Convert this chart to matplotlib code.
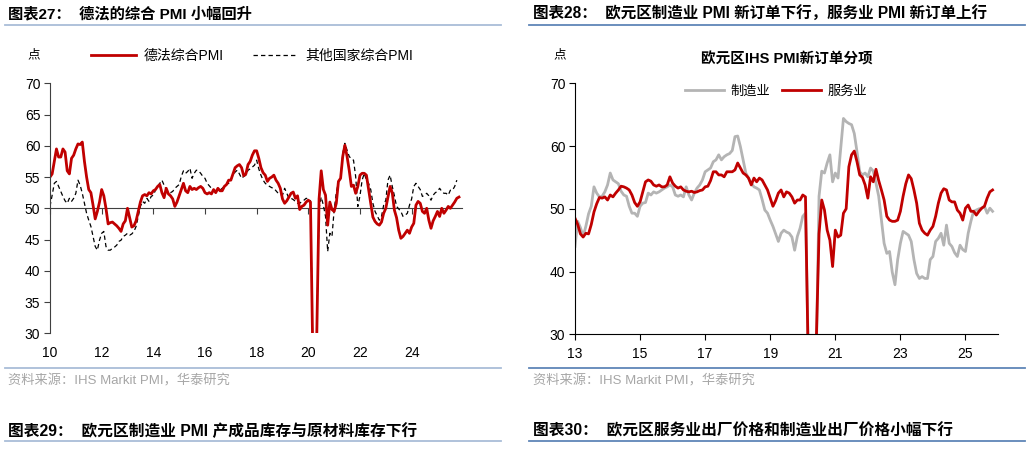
import numpy as np
import matplotlib
matplotlib.use('Agg')
import matplotlib.pyplot as plt
from matplotlib.lines import Line2D

plt.rcParams['font.family'] = ['Liberation Sans', 'Noto Sans CJK SC']

# 图表27: 德法 / 其他国家综合PMI, monthly from 2010-01
defr_pmi = [
    55.0, 55.5, 57.5, 59.5, 58.2, 58.2, 59.5, 59.0, 56.0, 55.5, 58.0, 58.5,  # 2010
    59.5, 60.3, 60.2, 60.6, 57.5, 55.0, 53.0, 52.5, 50.5, 48.3, 49.5, 51.0,  # 2011
    53.0, 52.0, 50.0, 47.5, 47.7, 47.8, 47.5, 47.2, 46.8, 46.3, 47.5, 48.0,  # 2012
    50.0, 48.5, 47.0, 47.2, 48.0, 49.5, 51.0, 52.0, 52.2, 52.0, 52.5, 52.3,  # 2013
    52.8, 53.0, 53.5, 53.8, 52.5, 51.7, 53.2, 52.3, 52.0, 51.5, 50.3, 51.0,  # 2014
    52.0, 53.0, 54.0, 52.8, 52.5, 53.5, 53.0, 53.2, 53.0, 53.3, 53.5, 53.2,  # 2015
    52.5, 52.3, 52.5, 52.3, 53.0, 52.5, 53.2, 52.8, 52.8, 53.5, 53.8, 54.5,  # 2016
    54.5, 55.5, 56.5, 56.8, 57.0, 56.5, 55.2, 55.5, 57.0, 57.5, 58.5, 59.2,  # 2017
    59.2, 58.0, 56.5, 55.7, 55.3, 54.3, 54.8, 55.0, 55.3, 54.5, 54.0, 53.2,  # 2018
    51.5, 50.8, 51.2, 51.8, 52.4, 52.6, 51.6, 52.0, 49.8, 50.3, 50.5, 51.0,  # 2019
    51.3, 51.0, 28.5, 13.0, 31.0, 51.5, 56.0, 53.0, 52.1, 47.3, 51.0, 49.8,  # 2020
    49.5, 50.8, 54.3, 54.8, 58.3, 60.1, 58.3, 56.1, 53.5, 53.7, 52.4, 53.5,  # 2021
    55.3, 55.6, 55.6, 55.3, 53.0, 50.8, 48.6, 47.9, 47.5, 47.3, 47.8, 49.2,  # 2022
    50.0, 51.8, 53.5, 52.5, 49.7, 48.5, 46.5, 45.2, 45.5, 46.0, 46.5, 46.0,  # 2023
    47.0, 47.6, 50.5, 51.1, 50.8, 49.5, 49.2, 50.0, 48.1, 46.8, 48.0, 48.7,  # 2024
    49.5, 48.7, 50.0, 49.2, 49.7, 50.3, 50.0, 50.5, 51.0, 51.6, 51.8,        # 2025
]
others_pmi = [
    50.3, 52.1, 54.0, 54.3, 53.5, 52.7, 51.9, 51.2, 50.8, 51.6, 51.1, 51.6,
    52.4, 54.5, 53.7, 52.4, 50.8, 49.2, 48.1, 47.1, 45.5, 43.9, 43.3, 44.9,
    46.0, 46.3, 43.9, 43.3, 43.3, 43.6, 43.8, 44.1, 44.7, 44.9, 45.5, 45.7,
    46.0, 45.7, 45.9, 46.3, 47.1, 48.7, 50.3, 51.1, 50.8, 51.6, 51.1, 51.9,
    52.1, 52.9, 53.5, 54.0, 54.5, 53.7, 53.0, 52.7, 52.5, 52.7, 53.2, 53.5,
    53.8, 55.1, 56.0, 55.6, 55.9, 56.4, 54.8, 55.6, 56.1, 56.0, 55.6, 55.1,
    54.8, 54.0, 53.6, 53.2, 52.9, 52.8, 52.7, 52.9, 53.2, 53.5, 53.8, 54.0,
    54.5, 55.3, 55.8, 56.1, 55.5, 54.8, 55.1, 55.3, 56.1, 56.3, 56.6, 56.9,
    57.7, 56.3, 55.3, 54.5, 54.0, 53.7, 53.5, 53.3, 53.2, 52.8, 52.4, 52.2,
    52.1, 53.2, 52.4, 51.6, 51.6, 51.4, 51.1, 50.8, 50.8, 51.1, 51.3, 51.6,
    51.5, 51.2, 29.0, 14.0, 32.0, 50.0, 51.8, 50.5, 48.7, 43.1, 46.0, 45.5,
    49.7, 52.5, 54.2, 54.8, 58.8, 60.4, 59.3, 58.3, 57.9, 57.7, 55.1, 50.3,
    52.0, 54.5, 55.6, 54.5, 54.0, 53.0, 50.8, 49.5, 48.8, 48.1, 48.7, 50.5,
    51.3, 54.5, 55.3, 53.5, 52.0, 50.3, 49.9, 49.5, 48.7, 48.9, 49.2, 50.5,
    51.5, 53.5, 54.0, 53.5, 53.0, 51.9, 52.1, 52.4, 52.0, 51.3, 52.1, 52.5,
    52.7, 53.2, 52.7, 52.4, 52.4, 52.1, 52.9, 52.9, 53.5, 54.5,
]

# 图表28: 欧元区PMI新订单, monthly from 2013-01
mfg_orders = [
    44.0, 48.0, 47.0, 45.6, 47.2, 49.2, 50.4, 53.5, 52.5, 51.9, 52.0, 52.7,  # 2013
    53.8, 55.7, 54.6, 54.3, 54.0, 52.8, 52.2, 52.0, 50.4, 49.3, 49.3, 48.8,  # 2014
    50.4, 50.9, 51.0, 52.5, 52.2, 52.7, 52.5, 52.7, 53.0, 53.3, 53.5, 53.8,  # 2015
    53.5, 52.2, 52.0, 52.2, 51.9, 53.5, 52.2, 51.4, 52.5, 53.3, 53.8, 54.6,  # 2016
    55.9, 56.2, 56.5, 57.5, 57.8, 58.6, 57.8, 58.3, 58.6, 58.8, 59.3, 61.5,  # 2017
    61.6, 59.9, 57.8, 55.7, 54.9, 54.1, 53.5, 53.3, 53.0, 51.5, 49.8, 49.3,  # 2018
    48.2, 47.2, 46.0, 44.8, 46.1, 46.6, 46.3, 46.1, 45.5, 43.4, 45.6, 46.9,  # 2019
    48.8, 49.3, 28.0, 10.0, 19.0, 27.0, 52.0, 56.0, 55.7, 57.3, 58.6, 54.3,  # 2020
    55.7, 54.9, 59.6, 64.4, 63.9, 63.6, 63.4, 62.0, 59.1, 55.9, 55.4, 55.7,  # 2021
    55.1, 56.5, 56.0, 54.1, 52.0, 48.2, 44.5, 42.9, 43.2, 39.9, 37.9, 41.9,  # 2022
    44.5, 46.4, 46.1, 45.8, 44.8, 41.9, 39.7, 38.9, 39.2, 38.9, 38.9, 41.9,  # 2023
    42.4, 44.8, 45.3, 46.1, 44.2, 47.4, 44.5, 44.0, 43.0, 42.4, 44.2, 43.5,  # 2024
    43.2, 46.1, 48.0, 49.6, 49.8, 50.0, 50.1, 50.4, 49.3, 50.1, 49.6,        # 2025
]
svc_orders = [
    48.5, 47.5, 46.0, 45.5, 46.1, 46.0, 47.5, 49.5, 50.8, 51.8, 51.7, 51.9,
    51.4, 52.2, 51.9, 52.5, 53.0, 53.6, 53.5, 53.3, 53.0, 52.2, 51.0, 50.4,
    51.1, 52.7, 54.3, 54.6, 54.4, 53.8, 53.6, 53.8, 53.5, 53.5, 53.8, 55.1,
    54.1, 53.6, 53.3, 53.5, 53.0, 52.8, 52.7, 52.8, 52.6, 52.7, 52.9, 53.0,
    53.5, 53.6, 54.5, 55.9, 55.9, 55.4, 55.4, 55.1, 55.9, 55.9, 55.9, 56.2,
    57.3, 56.5, 55.7, 55.4, 54.9, 53.8, 54.9, 54.3, 54.9, 54.6, 53.8, 53.0,
    51.7, 50.4, 51.3, 52.5, 53.0, 51.9, 52.7, 52.5, 51.9, 50.9, 51.4, 51.4,
    52.2, 51.9, 26.0, 9.0, 20.0, 29.0, 46.0, 51.4, 49.8, 46.6, 45.0, 40.8,
    46.6, 45.5, 45.8, 49.3, 50.0, 56.7, 58.6, 59.2, 57.5, 55.4, 55.0, 53.8,
    51.7, 55.1, 54.3, 56.3, 54.5, 53.0, 51.4, 48.8, 48.2, 48.0, 48.0, 48.2,
    49.6, 52.0, 54.0, 55.4, 54.8, 53.0, 50.9, 47.7, 46.6, 46.1, 45.8, 46.6,
    47.2, 48.8, 50.9, 52.5, 53.2, 53.0, 51.4, 51.1, 51.1, 49.8, 49.3, 48.2,
    50.1, 50.6, 49.6, 49.6, 49.0, 49.6, 50.1, 50.4, 51.7, 52.7, 53.0,
]

left_years = list(range(2010, 2025, 2))
right_years = list(range(2013, 2026, 2))

RED = '#c00000'
GREY = '#b4b4b4'
W, H = 1030, 455


def fx(x):
    return x / W


def fy(y):
    return 1 - y / H


fig = plt.figure(figsize=(W / 100, H / 100), dpi=100)

# headers, rules and sources
fig.text(fx(8), fy(14), '图表27：  德法的综合 PMI 小幅回升', fontsize=11,
         fontweight='bold', va='center')
fig.text(fx(533), fy(14), '图表28：  欧元区制造业 PMI 新订单下行，服务业 PMI 新订单上行',
         fontsize=11.2, fontweight='bold', va='center')
fig.text(fx(8), fy(431), '图表29：  欧元区制造业 PMI 产成品库存与原材料库存下行', fontsize=11.3,
         fontweight='bold', va='center')
fig.text(fx(533), fy(431), '图表30：  欧元区服务业出厂价格和制造业出厂价格小幅下行',
         fontsize=11.3, fontweight='bold', va='center')
for src_x in (8, 533):
    fig.text(fx(src_x), fy(381), '资料来源：IHS Markit PMI，华泰研究', fontsize=9.5,
             color='#a6a6a6', va='center')
for yy in (24.5, 368, 441):
    fig.add_artist(Line2D([fx(5), fx(501)], [fy(yy), fy(yy)], color='#a9bdd8', lw=1.3))
    fig.add_artist(Line2D([fx(529), fx(1025)], [fy(yy), fy(yy)], color='#5f86b7', lw=1.3))

fig.text(fx(27), fy(55), '点', fontsize=9, va='center')
fig.text(fx(553), fy(55), '点', fontsize=9, va='center')

# left chart
x1 = 2010 + np.arange(len(defr_pmi)) / 12
x2 = 2010 + np.arange(len(others_pmi)) / 12
ax1 = fig.add_axes([fx(50), fy(333.3), fx(412), 250 / H])
ax1.plot(x2, others_pmi, color='black', lw=0.9, ls=(0, (3.5, 2.5)), label='其他国家综合PMI')
ax1.plot(x1, defr_pmi, color=RED, lw=2.0, label='德法综合PMI')
ax1.set_xlim(2010, 2025.95)
ax1.set_ylim(30, 70)
ax1.set_yticks(range(30, 71, 5))
ax1.set_xticks(left_years)
ax1.set_xticklabels([str(y)[2:] for y in left_years])
for s in ('top', 'right', 'bottom'):
    ax1.spines[s].set_visible(False)
ax1.spines['left'].set_color('#404040')
ax1.tick_params(axis='x', length=0, pad=9, labelsize=10)
ax1.tick_params(axis='y', length=4, color='#404040', labelsize=10, pad=3)
mid = ax1.secondary_xaxis(0.5)
mid.set_xticks(left_years)
mid.set_xticklabels([])
mid.tick_params(direction='in', length=4, color='#404040')
for s in mid.spines.values():
    s.set_color('#404040')
h, l = ax1.get_legend_handles_labels()
ax1.legend(h[::-1], l[::-1], loc='center', bbox_to_anchor=(0.49, 1.109), ncol=2,
           frameon=False, fontsize=10, handlelength=3.3, handletextpad=0.5,
           columnspacing=2.1)

# right chart
xr = 2013 + np.arange(len(mfg_orders)) / 12
ax2 = fig.add_axes([fx(575), fy(334.3), fx(423), 251 / H])
ax2.plot(xr, mfg_orders, color=GREY, lw=2.0, label='制造业')
ax2.plot(xr, svc_orders, color=RED, lw=2.0, label='服务业')
ax2.set_xlim(2013, 2026)
ax2.set_ylim(30, 70)
ax2.set_yticks(range(30, 71, 10))
ax2.set_xticks(right_years)
ax2.set_xticklabels([str(y)[2:] for y in right_years])
for s in ('top', 'right'):
    ax2.spines[s].set_visible(False)
ax2.tick_params(length=4, labelsize=10, pad=3)
ax2.tick_params(axis='x', pad=5)
ax2.legend(loc='center', bbox_to_anchor=(0.475, 0.966), ncol=2, frameon=False,
           fontsize=9.5, handlelength=3.0, handletextpad=0.45, columnspacing=0.9)
ax2.set_title('欧元区IHS PMI新订单分项', fontsize=10.5, fontweight='bold', pad=14)

fig.savefig('out.png', dpi=100)
